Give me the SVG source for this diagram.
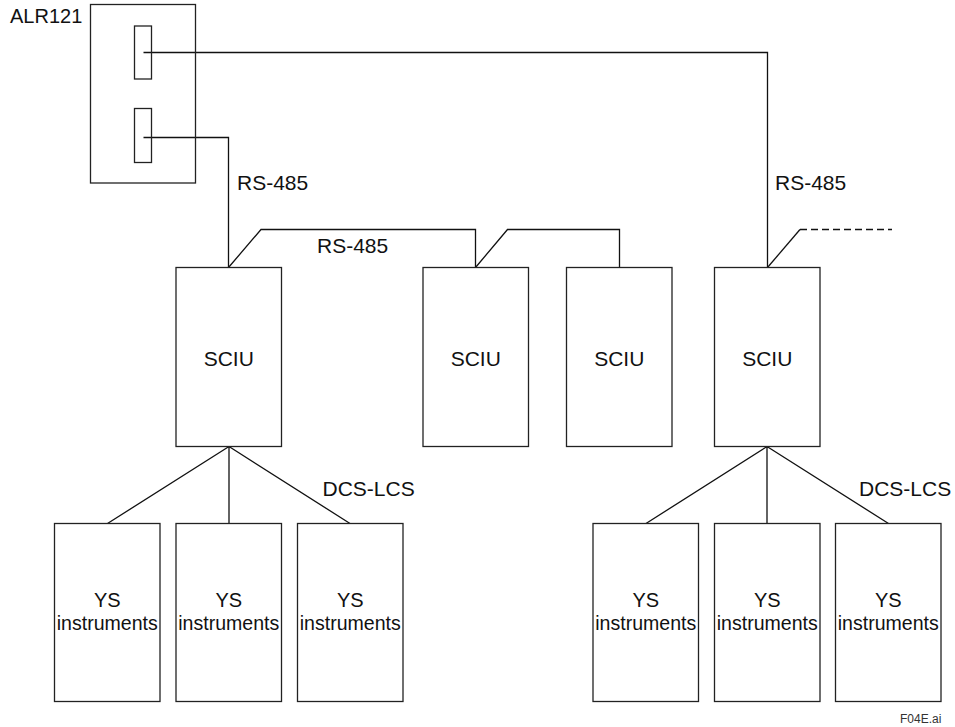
<svg xmlns="http://www.w3.org/2000/svg" width="955" height="727" viewBox="0 0 955 727">
<style>
.box{fill:#fff;stroke:#222;stroke-width:1.3}
.frame{fill:none;stroke:#222;stroke-width:1.3}
.ln{fill:none;stroke:#111;stroke-width:1.3}
.dash{fill:none;stroke:#111;stroke-width:1.3;stroke-dasharray:7 4}
text{font-family:"Liberation Sans",Arial,sans-serif;font-size:21px;fill:#111}
.c{text-anchor:middle}
.alr{font-size:20px}
.ys{font-size:20px}
.fig{font-size:12px;fill:#333}
</style>
<rect width="955" height="727" fill="#fff"/>
<g id="connectors">
  <path class="ln" d="M143.5,52.5 H767.5 V267.5"/>
  <path class="ln" d="M143.5,137.5 H228.5 V267.5"/>
  <path class="ln" d="M228.5,267.5 L261,229.5 H475.5 V267.5"/>
  <path class="ln" d="M475.5,267.5 L507.5,229.5 H619.5 V267.5"/>
  <path class="ln" d="M767.5,267.5 L800,229.5"/>
  <path class="dash" d="M800,229.5 H892"/>
  <path class="ln" d="M229,446.5 L107.5,523.5 M229,446.5 V523.5 M229,446.5 L350,523.5"/>
  <path class="ln" d="M767,446.5 L646,523.5 M767,446.5 V523.5 M767,446.5 L888.5,523.5"/>
</g>
<g id="ALR121">
  <rect class="frame" x="90.5" y="4.5" width="105" height="178.5"/>
  <rect class="frame" x="134.5" y="26" width="17" height="53"/>
  <rect class="frame" x="134.5" y="108.5" width="17" height="54"/>
  <text class="alr" x="10" y="23">ALR121</text>
</g>
<g id="labels">
  <text x="237" y="190">RS-485</text>
  <text x="317" y="253">RS-485</text>
  <text x="775" y="190">RS-485</text>
  <text x="322.5" y="496">DCS-LCS</text>
  <text x="859" y="496">DCS-LCS</text>
  <text class="fig" x="900" y="723">F04E.ai</text>
</g>
<g id="sciu1"><rect class="box" x="176" y="267.5" width="105.5" height="179"/><text class="c" x="228.75" y="366">SCIU</text></g>
<g id="sciu2"><rect class="box" x="423" y="267.5" width="105.5" height="179"/><text class="c" x="475.75" y="366">SCIU</text></g>
<g id="sciu3"><rect class="box" x="566.5" y="267.5" width="105.5" height="179"/><text class="c" x="619.25" y="366">SCIU</text></g>
<g id="sciu4"><rect class="box" x="714.5" y="267.5" width="105.5" height="179"/><text class="c" x="767.25" y="366">SCIU</text></g>
<g id="ys1"><rect class="box" x="54.5" y="523.5" width="105.5" height="178"/><text class="c ys" x="107.25" y="607">YS</text><text class="c ys" x="107.25" y="629.5" textLength="101" lengthAdjust="spacingAndGlyphs">instruments</text></g>
<g id="ys2"><rect class="box" x="176" y="523.5" width="105.5" height="178"/><text class="c ys" x="228.75" y="607">YS</text><text class="c ys" x="228.75" y="629.5" textLength="101" lengthAdjust="spacingAndGlyphs">instruments</text></g>
<g id="ys3"><rect class="box" x="297.5" y="523.5" width="105.5" height="178"/><text class="c ys" x="350.25" y="607">YS</text><text class="c ys" x="350.25" y="629.5" textLength="101" lengthAdjust="spacingAndGlyphs">instruments</text></g>
<g id="ys4"><rect class="box" x="593" y="523.5" width="105.5" height="178"/><text class="c ys" x="645.75" y="607">YS</text><text class="c ys" x="645.75" y="629.5" textLength="101" lengthAdjust="spacingAndGlyphs">instruments</text></g>
<g id="ys5"><rect class="box" x="714.5" y="523.5" width="105.5" height="178"/><text class="c ys" x="767.25" y="607">YS</text><text class="c ys" x="767.25" y="629.5" textLength="101" lengthAdjust="spacingAndGlyphs">instruments</text></g>
<g id="ys6"><rect class="box" x="835.5" y="523.5" width="105.5" height="178"/><text class="c ys" x="888.25" y="607">YS</text><text class="c ys" x="888.25" y="629.5" textLength="101" lengthAdjust="spacingAndGlyphs">instruments</text></g>
</svg>
